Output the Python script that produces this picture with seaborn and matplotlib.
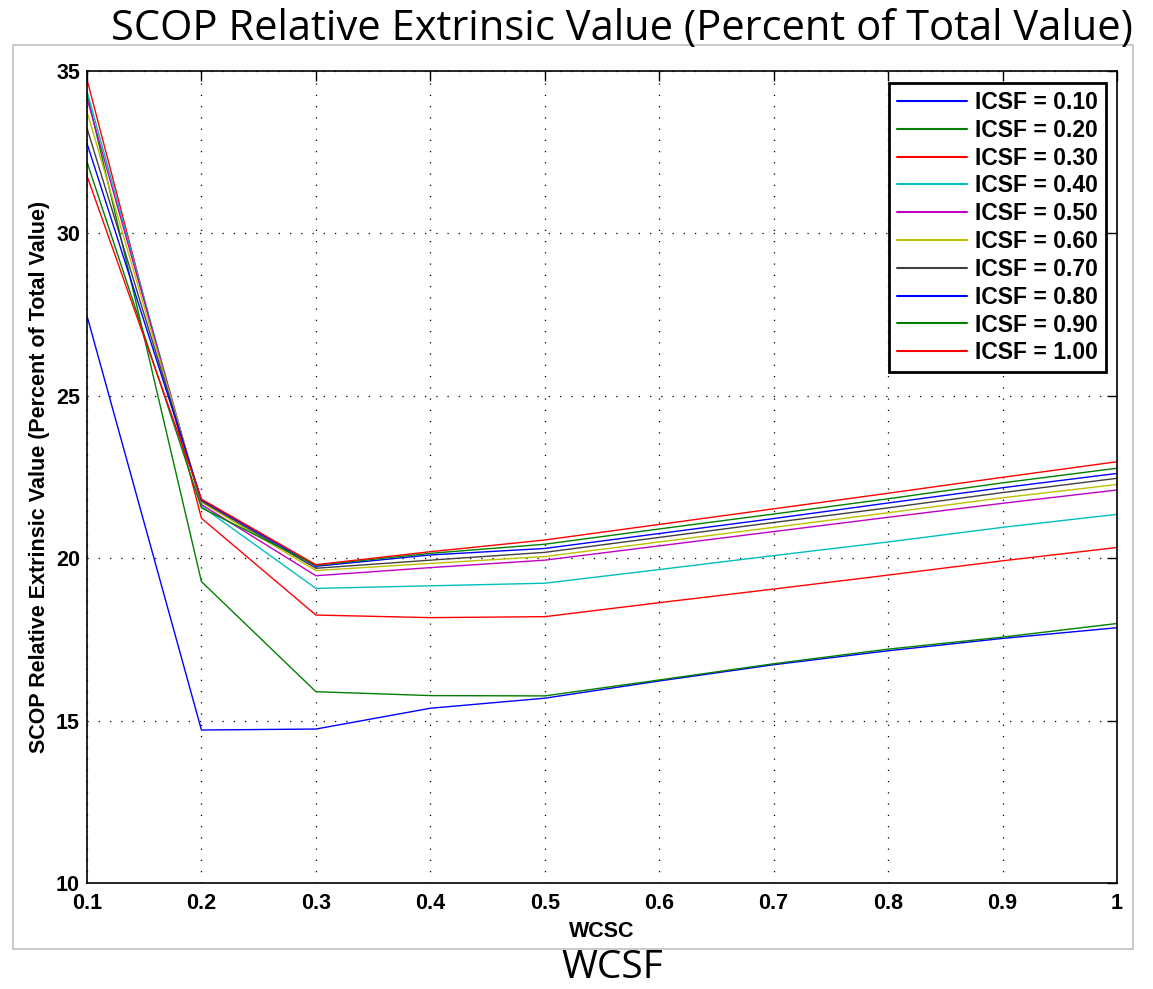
import numpy as np
import pandas as pd
import matplotlib
matplotlib.use("Agg")
import matplotlib.pyplot as plt
import seaborn as sns
from matplotlib.patches import Rectangle

# ---- data ----
wcsc = [0.1, 0.2, 0.3, 0.4, 0.5, 0.6, 0.7, 0.8, 0.9, 1.0]
icsf_labels = ["ICSF = 0.10", "ICSF = 0.20", "ICSF = 0.30", "ICSF = 0.40", "ICSF = 0.50",
               "ICSF = 0.60", "ICSF = 0.70", "ICSF = 0.80", "ICSF = 0.90", "ICSF = 1.00"]
icsf_010 = [27.46, 14.71, 14.74, 15.38, 15.69, 16.22, 16.72, 17.15, 17.53, 17.86]
icsf_020 = [34.31, 19.28, 15.89, 15.77, 15.76, 16.25, 16.75, 17.20, 17.57, 17.99]
icsf_030 = [34.74, 21.23, 18.25, 18.17, 18.20, 18.63, 19.05, 19.48, 19.92, 20.33]
icsf_040 = [34.38, 21.60, 19.07, 19.15, 19.23, 19.65, 20.08, 20.50, 20.95, 21.35]
icsf_050 = [34.16, 21.65, 19.46, 19.71, 19.94, 20.38, 20.82, 21.26, 21.69, 22.10]
icsf_060 = [33.75, 21.72, 19.62, 19.84, 20.05, 20.50, 20.95, 21.40, 21.86, 22.27]
icsf_070 = [33.24, 21.76, 19.69, 19.94, 20.18, 20.64, 21.10, 21.55, 22.02, 22.46]
icsf_080 = [32.77, 21.80, 19.75, 20.10, 20.30, 20.76, 21.22, 21.70, 22.17, 22.61]
icsf_090 = [32.20, 21.55, 19.78, 20.15, 20.43, 20.90, 21.36, 21.83, 22.32, 22.77]
icsf_100 = [31.77, 21.82, 19.80, 20.20, 20.56, 21.04, 21.52, 22.00, 22.49, 22.97]
series = [icsf_010, icsf_020, icsf_030, icsf_040, icsf_050,
          icsf_060, icsf_070, icsf_080, icsf_090, icsf_100]

colors = [(0, 0, 1), (0, 0.5, 0), (1, 0, 0), (0, 0.75, 0.75), (0.75, 0, 0.75),
          (0.75, 0.75, 0), (0.25, 0.25, 0.25), (0, 0, 1), (0, 0.5, 0), (1, 0, 0)]

rows = []
for lab, vals in zip(icsf_labels, series):
    for x, v in zip(wcsc, vals):
        rows.append({"WCSC": x, "value": v, "ICSF": lab})
df = pd.DataFrame(rows)

sns.set_style("white")
plt.rcParams['font.family'] = ['Liberation Sans', 'DejaVu Sans']
plt.rcParams['text.color'] = 'black'
plt.rcParams['axes.labelcolor'] = 'black'

FS = 15.5

fig = plt.figure(figsize=(11.53, 9.89), dpi=100)
W, H = 1153, 989
ax = fig.add_axes([87 / W, 1 - 883 / H, (1117 - 87) / W, (883 - 71) / H])

sns.lineplot(data=df, x="WCSC", y="value", hue="ICSF", hue_order=icsf_labels,
             palette=colors, linewidth=1.0, ax=ax, legend=True, estimator=None, sort=False)

ax.set_xlim(0.1, 1.0)
ax.set_ylim(10, 35)
ax.set_xticks([0.1, 0.2, 0.3, 0.4, 0.5, 0.6, 0.7, 0.8, 0.9, 1.0])
ax.set_xticklabels(["0.1", "0.2", "0.3", "0.4", "0.5", "0.6", "0.7", "0.8", "0.9", "1"])
ax.set_yticks([10, 15, 20, 25, 30, 35])
for lbl in ax.get_xticklabels() + ax.get_yticklabels():
    lbl.set_fontweight("bold")
    lbl.set_fontsize(FS)
    lbl.set_color("black")
ax.tick_params(direction="in", length=7, width=1, top=True, right=True,
               colors="black")
ax.tick_params(axis="x", pad=7)
ax.tick_params(axis="y", pad=5)
ax.grid(True, color="black", linestyle=(0, (1, 8)), linewidth=0.9)
for s in ax.spines.values():
    s.set_color("black")
    s.set_linewidth(1.2)

ax.set_xlabel("WCSC", fontsize=FS, fontweight="bold", labelpad=5, color="black")
ax.set_ylabel("SCOP Relative Extrinsic Value (Percent of Total Value)", fontsize=FS,
              fontweight="bold", labelpad=4, color="black")

leg = ax.legend(loc="upper right", bbox_to_anchor=(1106 / W, 1 - 83 / H),
                bbox_transform=fig.transFigure, frameon=True, fancybox=False,
                prop={"weight": "bold", "size": 16.5}, handlelength=3.05,
                labelspacing=0.21, borderpad=0.35, handletextpad=0.35,
                borderaxespad=0, framealpha=1)
leg.get_frame().set_edgecolor("black")
leg.get_frame().set_linewidth(2)
leg.set_title(None)
for h in leg.get_lines():
    h.set_linewidth(1.5)
for t in leg.get_texts():
    t.set_color("black")

# outer light gray frame
fig.patches.append(Rectangle((13 / W, 1 - 949 / H), (1133 - 13) / W, (949 - 45) / H,
                             transform=fig.transFigure, fill=False,
                             edgecolor="#c0c0c0", linewidth=1.2))

fig.text(1133 / W, 1 - 40 / H, "SCOP Relative Extrinsic Value (Percent of Total Value)",
         ha="right", va="baseline", fontsize=30, color="black",
         family=["Open Sans", "DejaVu Sans"])
fig.text(612 / W, 1 - 978 / H, "WCSF", ha="center", va="baseline", fontsize=28,
         color="black", family=["Open Sans", "DejaVu Sans"])

fig.savefig("out.png", dpi=100)
